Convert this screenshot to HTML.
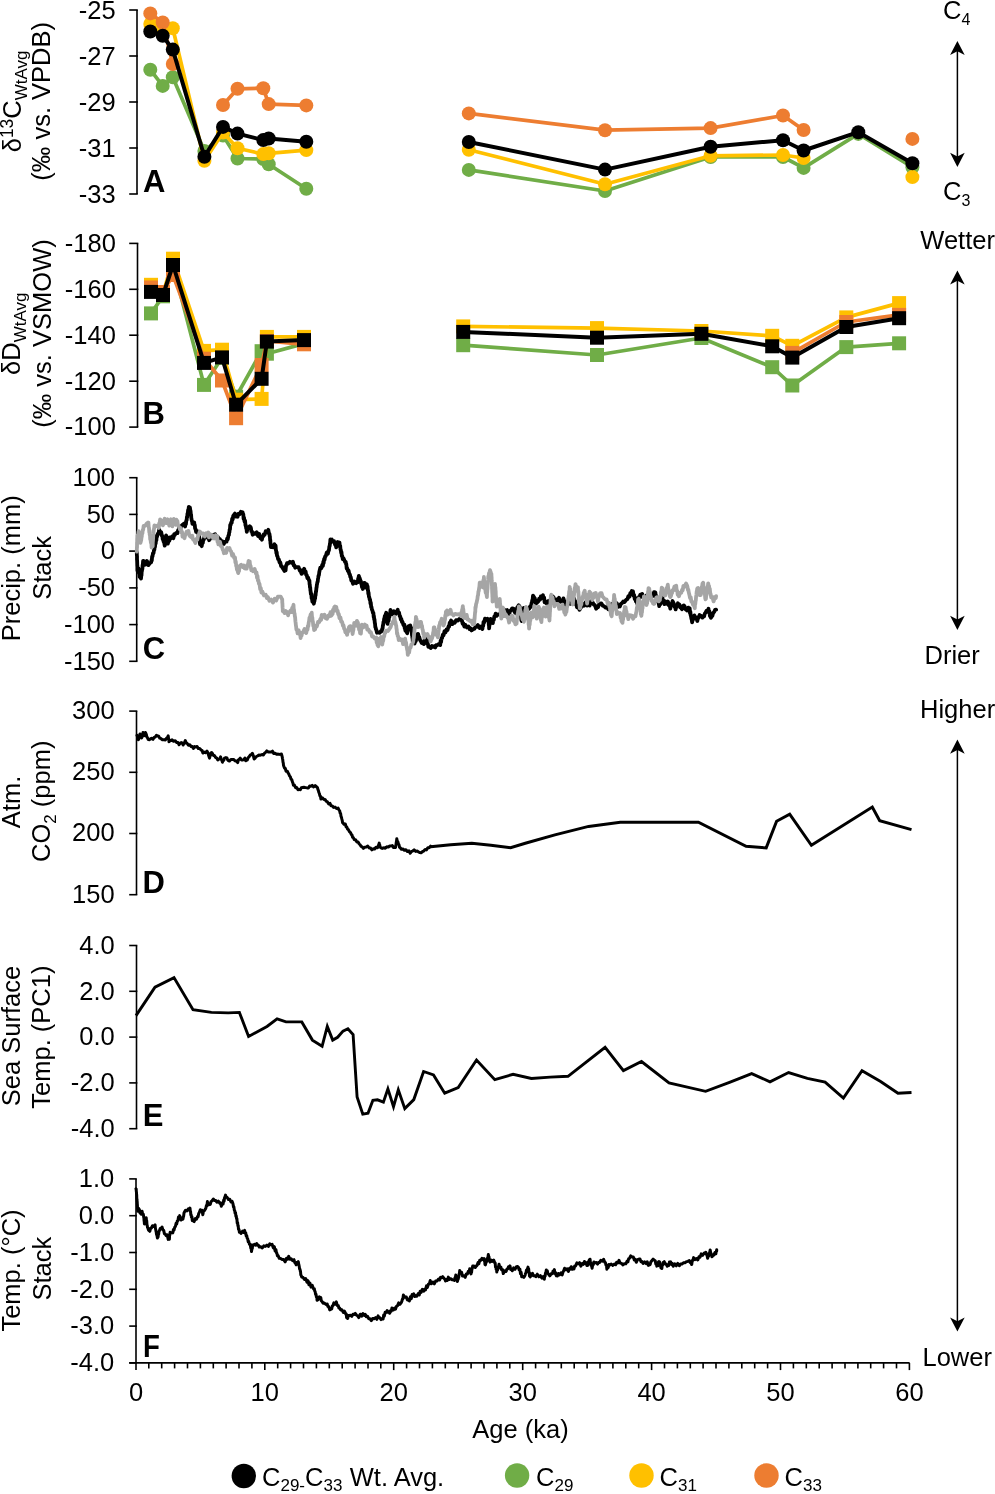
<!DOCTYPE html>
<html><head><meta charset="utf-8"><style>
html,body{margin:0;padding:0;background:#fff;}
svg{display:block;filter:blur(0.3px);}
text{font-family:"Liberation Sans", sans-serif;fill:#000;}
</style></head><body>
<svg width="995" height="1494" viewBox="0 0 995 1494">
<rect width="995" height="1494" fill="#fff"/>
<path d="M137.0,10.0 V194.0" stroke="#000" stroke-width="1.6" fill="none"/>
<path d="M129.2,10.0 H137.8" stroke="#000" stroke-width="1.6" fill="none"/>
<text x="115.6" y="18.8" font-size="25.5" text-anchor="end" font-weight="normal" >-25</text>
<path d="M129.2,56.0 H137.8" stroke="#000" stroke-width="1.6" fill="none"/>
<text x="115.6" y="64.8" font-size="25.5" text-anchor="end" font-weight="normal" >-27</text>
<path d="M129.2,102.0 H137.8" stroke="#000" stroke-width="1.6" fill="none"/>
<text x="115.6" y="110.8" font-size="25.5" text-anchor="end" font-weight="normal" >-29</text>
<path d="M129.2,148.0 H137.8" stroke="#000" stroke-width="1.6" fill="none"/>
<text x="115.6" y="156.8" font-size="25.5" text-anchor="end" font-weight="normal" >-31</text>
<path d="M129.2,194.0 H137.8" stroke="#000" stroke-width="1.6" fill="none"/>
<text x="115.6" y="202.8" font-size="25.5" text-anchor="end" font-weight="normal" >-33</text>
<path d="M137.5,243.4 V427.1" stroke="#000" stroke-width="1.6" fill="none"/>
<path d="M129.2,243.4 H138.3" stroke="#000" stroke-width="1.6" fill="none"/>
<text x="115.9" y="251.7" font-size="25.5" text-anchor="end" font-weight="normal" >-180</text>
<path d="M129.2,289.3 H138.3" stroke="#000" stroke-width="1.6" fill="none"/>
<text x="115.9" y="297.6" font-size="25.5" text-anchor="end" font-weight="normal" >-160</text>
<path d="M129.2,335.2 H138.3" stroke="#000" stroke-width="1.6" fill="none"/>
<text x="115.9" y="343.6" font-size="25.5" text-anchor="end" font-weight="normal" >-140</text>
<path d="M129.2,381.2 H138.3" stroke="#000" stroke-width="1.6" fill="none"/>
<text x="115.9" y="389.5" font-size="25.5" text-anchor="end" font-weight="normal" >-120</text>
<path d="M129.2,427.1 H138.3" stroke="#000" stroke-width="1.6" fill="none"/>
<text x="115.9" y="435.4" font-size="25.5" text-anchor="end" font-weight="normal" >-100</text>
<path d="M136.7,477.7 V661.3" stroke="#000" stroke-width="1.6" fill="none"/>
<path d="M129.2,477.7 H137.5" stroke="#000" stroke-width="1.6" fill="none"/>
<text x="115.0" y="486.0" font-size="25.5" text-anchor="end" font-weight="normal" >100</text>
<path d="M129.2,514.4 H137.5" stroke="#000" stroke-width="1.6" fill="none"/>
<text x="115.0" y="522.7" font-size="25.5" text-anchor="end" font-weight="normal" >50</text>
<path d="M129.2,551.1 H137.5" stroke="#000" stroke-width="1.6" fill="none"/>
<text x="115.0" y="559.4" font-size="25.5" text-anchor="end" font-weight="normal" >0</text>
<path d="M129.2,587.9 H137.5" stroke="#000" stroke-width="1.6" fill="none"/>
<text x="115.0" y="596.2" font-size="25.5" text-anchor="end" font-weight="normal" >-50</text>
<path d="M129.2,624.6 H137.5" stroke="#000" stroke-width="1.6" fill="none"/>
<text x="115.0" y="632.9" font-size="25.5" text-anchor="end" font-weight="normal" >-100</text>
<path d="M129.2,661.3 H137.5" stroke="#000" stroke-width="1.6" fill="none"/>
<text x="115.0" y="669.6" font-size="25.5" text-anchor="end" font-weight="normal" >-150</text>
<path d="M136.5,711.1 V894.7" stroke="#000" stroke-width="1.6" fill="none"/>
<path d="M129.2,711.1 H137.3" stroke="#000" stroke-width="1.6" fill="none"/>
<text x="114.6" y="718.9" font-size="25.5" text-anchor="end" font-weight="normal" >300</text>
<path d="M129.2,772.3 H137.3" stroke="#000" stroke-width="1.6" fill="none"/>
<text x="114.6" y="780.1" font-size="25.5" text-anchor="end" font-weight="normal" >250</text>
<path d="M129.2,833.5 H137.3" stroke="#000" stroke-width="1.6" fill="none"/>
<text x="114.6" y="841.3" font-size="25.5" text-anchor="end" font-weight="normal" >200</text>
<path d="M129.2,894.7 H137.3" stroke="#000" stroke-width="1.6" fill="none"/>
<text x="114.6" y="902.5" font-size="25.5" text-anchor="end" font-weight="normal" >150</text>
<path d="M136.5,945.5 V1128.7" stroke="#000" stroke-width="1.6" fill="none"/>
<path d="M129.2,945.5 H137.3" stroke="#000" stroke-width="1.6" fill="none"/>
<text x="114.8" y="953.8" font-size="25.5" text-anchor="end" font-weight="normal" >4.0</text>
<path d="M129.2,991.3 H137.3" stroke="#000" stroke-width="1.6" fill="none"/>
<text x="114.8" y="999.6" font-size="25.5" text-anchor="end" font-weight="normal" >2.0</text>
<path d="M129.2,1037.1 H137.3" stroke="#000" stroke-width="1.6" fill="none"/>
<text x="114.8" y="1045.4" font-size="25.5" text-anchor="end" font-weight="normal" >0.0</text>
<path d="M129.2,1082.9 H137.3" stroke="#000" stroke-width="1.6" fill="none"/>
<text x="114.8" y="1091.2" font-size="25.5" text-anchor="end" font-weight="normal" >-2.0</text>
<path d="M129.2,1128.7 H137.3" stroke="#000" stroke-width="1.6" fill="none"/>
<text x="114.8" y="1137.0" font-size="25.5" text-anchor="end" font-weight="normal" >-4.0</text>
<path d="M136.0,1178.9 V1362.9" stroke="#000" stroke-width="1.6" fill="none"/>
<path d="M129.2,1178.9 H136.8" stroke="#000" stroke-width="1.6" fill="none"/>
<text x="114.3" y="1187.2" font-size="25.5" text-anchor="end" font-weight="normal" >1.0</text>
<path d="M129.2,1215.7 H136.8" stroke="#000" stroke-width="1.6" fill="none"/>
<text x="114.3" y="1224.0" font-size="25.5" text-anchor="end" font-weight="normal" >0.0</text>
<path d="M129.2,1252.5 H136.8" stroke="#000" stroke-width="1.6" fill="none"/>
<text x="114.3" y="1260.8" font-size="25.5" text-anchor="end" font-weight="normal" >-1.0</text>
<path d="M129.2,1289.3 H136.8" stroke="#000" stroke-width="1.6" fill="none"/>
<text x="114.3" y="1297.6" font-size="25.5" text-anchor="end" font-weight="normal" >-2.0</text>
<path d="M129.2,1326.1 H136.8" stroke="#000" stroke-width="1.6" fill="none"/>
<text x="114.3" y="1334.4" font-size="25.5" text-anchor="end" font-weight="normal" >-3.0</text>
<path d="M129.2,1362.9 H136.8" stroke="#000" stroke-width="1.6" fill="none"/>
<text x="114.3" y="1371.2" font-size="25.5" text-anchor="end" font-weight="normal" >-4.0</text>
<path d="M129.2,1362.9 H909.6" stroke="#000" stroke-width="1.6" fill="none"/>
<path d="M136.0,1362.9 V1370.1000000000001" stroke="#000" stroke-width="1.6" fill="none"/>
<text x="136.0" y="1400.8" font-size="25.5" text-anchor="middle" font-weight="normal" >0</text>
<path d="M148.8,1362.9 V1368.4" stroke="#000" stroke-width="1.6" fill="none"/>
<path d="M161.7,1362.9 V1368.4" stroke="#000" stroke-width="1.6" fill="none"/>
<path d="M174.6,1362.9 V1368.4" stroke="#000" stroke-width="1.6" fill="none"/>
<path d="M187.5,1362.9 V1368.4" stroke="#000" stroke-width="1.6" fill="none"/>
<path d="M200.4,1362.9 V1368.4" stroke="#000" stroke-width="1.6" fill="none"/>
<path d="M213.3,1362.9 V1368.4" stroke="#000" stroke-width="1.6" fill="none"/>
<path d="M226.1,1362.9 V1368.4" stroke="#000" stroke-width="1.6" fill="none"/>
<path d="M239.0,1362.9 V1368.4" stroke="#000" stroke-width="1.6" fill="none"/>
<path d="M251.9,1362.9 V1368.4" stroke="#000" stroke-width="1.6" fill="none"/>
<path d="M264.8,1362.9 V1370.1000000000001" stroke="#000" stroke-width="1.6" fill="none"/>
<text x="264.8" y="1400.8" font-size="25.5" text-anchor="middle" font-weight="normal" >10</text>
<path d="M277.7,1362.9 V1368.4" stroke="#000" stroke-width="1.6" fill="none"/>
<path d="M290.6,1362.9 V1368.4" stroke="#000" stroke-width="1.6" fill="none"/>
<path d="M303.5,1362.9 V1368.4" stroke="#000" stroke-width="1.6" fill="none"/>
<path d="M316.4,1362.9 V1368.4" stroke="#000" stroke-width="1.6" fill="none"/>
<path d="M329.3,1362.9 V1368.4" stroke="#000" stroke-width="1.6" fill="none"/>
<path d="M342.2,1362.9 V1368.4" stroke="#000" stroke-width="1.6" fill="none"/>
<path d="M355.1,1362.9 V1368.4" stroke="#000" stroke-width="1.6" fill="none"/>
<path d="M368.0,1362.9 V1368.4" stroke="#000" stroke-width="1.6" fill="none"/>
<path d="M380.8,1362.9 V1368.4" stroke="#000" stroke-width="1.6" fill="none"/>
<path d="M393.7,1362.9 V1370.1000000000001" stroke="#000" stroke-width="1.6" fill="none"/>
<text x="393.7" y="1400.8" font-size="25.5" text-anchor="middle" font-weight="normal" >20</text>
<path d="M406.6,1362.9 V1368.4" stroke="#000" stroke-width="1.6" fill="none"/>
<path d="M419.5,1362.9 V1368.4" stroke="#000" stroke-width="1.6" fill="none"/>
<path d="M432.4,1362.9 V1368.4" stroke="#000" stroke-width="1.6" fill="none"/>
<path d="M445.3,1362.9 V1368.4" stroke="#000" stroke-width="1.6" fill="none"/>
<path d="M458.2,1362.9 V1368.4" stroke="#000" stroke-width="1.6" fill="none"/>
<path d="M471.1,1362.9 V1368.4" stroke="#000" stroke-width="1.6" fill="none"/>
<path d="M484.0,1362.9 V1368.4" stroke="#000" stroke-width="1.6" fill="none"/>
<path d="M496.9,1362.9 V1368.4" stroke="#000" stroke-width="1.6" fill="none"/>
<path d="M509.8,1362.9 V1368.4" stroke="#000" stroke-width="1.6" fill="none"/>
<path d="M522.7,1362.9 V1370.1000000000001" stroke="#000" stroke-width="1.6" fill="none"/>
<text x="522.7" y="1400.8" font-size="25.5" text-anchor="middle" font-weight="normal" >30</text>
<path d="M535.6,1362.9 V1368.4" stroke="#000" stroke-width="1.6" fill="none"/>
<path d="M548.4,1362.9 V1368.4" stroke="#000" stroke-width="1.6" fill="none"/>
<path d="M561.3,1362.9 V1368.4" stroke="#000" stroke-width="1.6" fill="none"/>
<path d="M574.2,1362.9 V1368.4" stroke="#000" stroke-width="1.6" fill="none"/>
<path d="M587.1,1362.9 V1368.4" stroke="#000" stroke-width="1.6" fill="none"/>
<path d="M600.0,1362.9 V1368.4" stroke="#000" stroke-width="1.6" fill="none"/>
<path d="M612.9,1362.9 V1368.4" stroke="#000" stroke-width="1.6" fill="none"/>
<path d="M625.8,1362.9 V1368.4" stroke="#000" stroke-width="1.6" fill="none"/>
<path d="M638.7,1362.9 V1368.4" stroke="#000" stroke-width="1.6" fill="none"/>
<path d="M651.6,1362.9 V1370.1000000000001" stroke="#000" stroke-width="1.6" fill="none"/>
<text x="651.6" y="1400.8" font-size="25.5" text-anchor="middle" font-weight="normal" >40</text>
<path d="M664.5,1362.9 V1368.4" stroke="#000" stroke-width="1.6" fill="none"/>
<path d="M677.4,1362.9 V1368.4" stroke="#000" stroke-width="1.6" fill="none"/>
<path d="M690.3,1362.9 V1368.4" stroke="#000" stroke-width="1.6" fill="none"/>
<path d="M703.1,1362.9 V1368.4" stroke="#000" stroke-width="1.6" fill="none"/>
<path d="M716.0,1362.9 V1368.4" stroke="#000" stroke-width="1.6" fill="none"/>
<path d="M728.9,1362.9 V1368.4" stroke="#000" stroke-width="1.6" fill="none"/>
<path d="M741.8,1362.9 V1368.4" stroke="#000" stroke-width="1.6" fill="none"/>
<path d="M754.7,1362.9 V1368.4" stroke="#000" stroke-width="1.6" fill="none"/>
<path d="M767.6,1362.9 V1368.4" stroke="#000" stroke-width="1.6" fill="none"/>
<path d="M780.5,1362.9 V1370.1000000000001" stroke="#000" stroke-width="1.6" fill="none"/>
<text x="780.5" y="1400.8" font-size="25.5" text-anchor="middle" font-weight="normal" >50</text>
<path d="M793.4,1362.9 V1368.4" stroke="#000" stroke-width="1.6" fill="none"/>
<path d="M806.3,1362.9 V1368.4" stroke="#000" stroke-width="1.6" fill="none"/>
<path d="M819.2,1362.9 V1368.4" stroke="#000" stroke-width="1.6" fill="none"/>
<path d="M832.1,1362.9 V1368.4" stroke="#000" stroke-width="1.6" fill="none"/>
<path d="M845.0,1362.9 V1368.4" stroke="#000" stroke-width="1.6" fill="none"/>
<path d="M857.9,1362.9 V1368.4" stroke="#000" stroke-width="1.6" fill="none"/>
<path d="M870.7,1362.9 V1368.4" stroke="#000" stroke-width="1.6" fill="none"/>
<path d="M883.6,1362.9 V1368.4" stroke="#000" stroke-width="1.6" fill="none"/>
<path d="M896.5,1362.9 V1368.4" stroke="#000" stroke-width="1.6" fill="none"/>
<path d="M909.4,1362.9 V1370.1000000000001" stroke="#000" stroke-width="1.6" fill="none"/>
<text x="909.4" y="1400.8" font-size="25.5" text-anchor="middle" font-weight="normal" >60</text>
<text x="520.5" y="1437.6" font-size="25.5" text-anchor="middle" font-weight="normal" >Age (ka)</text>
<text x="143.0" y="192.0" font-size="31" text-anchor="start" font-weight="bold" >A</text>
<text x="142.6" y="423.8" font-size="31" text-anchor="start" font-weight="bold" >B</text>
<text x="142.8" y="658.8" font-size="31" text-anchor="start" font-weight="bold" >C</text>
<text x="142.6" y="892.5" font-size="31" text-anchor="start" font-weight="bold" >D</text>
<text x="142.8" y="1126.2" font-size="31" text-anchor="start" font-weight="bold" >E</text>
<text transform="translate(142.9,1356.6) scale(0.89,1)" font-size="31" font-weight="bold">F</text>
<polyline points="150.3,69.7 162.7,85.9 172.8,77.3 204.4,150.9 223.0,135.5 237.5,158.5 263.3,159.0 268.7,164.2 306.3,188.7" fill="none" stroke="#70AD47" stroke-width="3.7" stroke-linejoin="round" stroke-linecap="round" stroke-miterlimit="4"/>
<circle cx="150.3" cy="69.7" r="7.0" fill="#70AD47"/>
<circle cx="162.7" cy="85.9" r="7.0" fill="#70AD47"/>
<circle cx="172.8" cy="77.3" r="7.0" fill="#70AD47"/>
<circle cx="204.4" cy="150.9" r="7.0" fill="#70AD47"/>
<circle cx="223.0" cy="135.5" r="7.0" fill="#70AD47"/>
<circle cx="237.5" cy="158.5" r="7.0" fill="#70AD47"/>
<circle cx="263.3" cy="159.0" r="7.0" fill="#70AD47"/>
<circle cx="268.7" cy="164.2" r="7.0" fill="#70AD47"/>
<circle cx="306.3" cy="188.7" r="7.0" fill="#70AD47"/>
<polyline points="468.8,169.9 605.0,191.0 710.6,157.0 783.0,157.0 803.6,167.9 858.3,133.9 912.4,167.3" fill="none" stroke="#70AD47" stroke-width="3.7" stroke-linejoin="round" stroke-linecap="round" stroke-miterlimit="4"/>
<circle cx="468.8" cy="169.9" r="7.0" fill="#70AD47"/>
<circle cx="605.0" cy="191.0" r="7.0" fill="#70AD47"/>
<circle cx="710.6" cy="157.0" r="7.0" fill="#70AD47"/>
<circle cx="783.0" cy="157.0" r="7.0" fill="#70AD47"/>
<circle cx="803.6" cy="167.9" r="7.0" fill="#70AD47"/>
<circle cx="858.3" cy="133.9" r="7.0" fill="#70AD47"/>
<circle cx="912.4" cy="167.3" r="7.0" fill="#70AD47"/>
<polyline points="150.3,23.9 162.7,28.0 172.8,28.3 204.4,160.8 223.0,132.5 237.5,148.3 263.3,154.1 268.7,153.3 306.3,150.1" fill="none" stroke="#FFC000" stroke-width="3.7" stroke-linejoin="round" stroke-linecap="round" stroke-miterlimit="4"/>
<circle cx="150.3" cy="23.9" r="7.0" fill="#FFC000"/>
<circle cx="162.7" cy="28.0" r="7.0" fill="#FFC000"/>
<circle cx="172.8" cy="28.3" r="7.0" fill="#FFC000"/>
<circle cx="204.4" cy="160.8" r="7.0" fill="#FFC000"/>
<circle cx="223.0" cy="132.5" r="7.0" fill="#FFC000"/>
<circle cx="237.5" cy="148.3" r="7.0" fill="#FFC000"/>
<circle cx="263.3" cy="154.1" r="7.0" fill="#FFC000"/>
<circle cx="268.7" cy="153.3" r="7.0" fill="#FFC000"/>
<circle cx="306.3" cy="150.1" r="7.0" fill="#FFC000"/>
<polyline points="468.8,149.8 605.0,184.2 710.6,155.8 783.0,155.0 803.6,158.0" fill="none" stroke="#FFC000" stroke-width="3.7" stroke-linejoin="round" stroke-linecap="round" stroke-miterlimit="4"/>
<circle cx="468.8" cy="149.8" r="7.0" fill="#FFC000"/>
<circle cx="605.0" cy="184.2" r="7.0" fill="#FFC000"/>
<circle cx="710.6" cy="155.8" r="7.0" fill="#FFC000"/>
<circle cx="783.0" cy="155.0" r="7.0" fill="#FFC000"/>
<circle cx="803.6" cy="158.0" r="7.0" fill="#FFC000"/>
<circle cx="912.4" cy="177.1" r="7.0" fill="#FFC000"/>
<polyline points="150.3,13.4 162.7,22.5 172.8,64.0" fill="none" stroke="#ED7D31" stroke-width="3.7" stroke-linejoin="round" stroke-linecap="round" stroke-miterlimit="4"/>
<polyline points="223.0,105.0 237.5,88.8 263.3,88.2 268.7,104.1 306.3,105.4" fill="none" stroke="#ED7D31" stroke-width="3.7" stroke-linejoin="round" stroke-linecap="round" stroke-miterlimit="4"/>
<circle cx="150.3" cy="13.4" r="7.0" fill="#ED7D31"/>
<circle cx="162.7" cy="22.5" r="7.0" fill="#ED7D31"/>
<circle cx="172.8" cy="64.0" r="7.0" fill="#ED7D31"/>
<circle cx="223.0" cy="105.0" r="7.0" fill="#ED7D31"/>
<circle cx="237.5" cy="88.8" r="7.0" fill="#ED7D31"/>
<circle cx="263.3" cy="88.2" r="7.0" fill="#ED7D31"/>
<circle cx="268.7" cy="104.1" r="7.0" fill="#ED7D31"/>
<circle cx="306.3" cy="105.4" r="7.0" fill="#ED7D31"/>
<polyline points="468.8,113.4 605.0,130.2 710.6,128.1 783.0,115.5 803.6,130.0" fill="none" stroke="#ED7D31" stroke-width="3.7" stroke-linejoin="round" stroke-linecap="round" stroke-miterlimit="4"/>
<circle cx="468.8" cy="113.4" r="7.0" fill="#ED7D31"/>
<circle cx="605.0" cy="130.2" r="7.0" fill="#ED7D31"/>
<circle cx="710.6" cy="128.1" r="7.0" fill="#ED7D31"/>
<circle cx="783.0" cy="115.5" r="7.0" fill="#ED7D31"/>
<circle cx="803.6" cy="130.0" r="7.0" fill="#ED7D31"/>
<circle cx="912.4" cy="138.9" r="7.0" fill="#ED7D31"/>
<polyline points="150.3,31.5 162.7,35.7 172.8,49.6 204.4,156.7 223.0,126.9 237.5,133.6 263.3,140.1 268.7,138.5 306.3,141.7" fill="none" stroke="#000000" stroke-width="4.0" stroke-linejoin="round" stroke-linecap="round" stroke-miterlimit="4"/>
<circle cx="150.3" cy="31.5" r="7.0" fill="#000000"/>
<circle cx="162.7" cy="35.7" r="7.0" fill="#000000"/>
<circle cx="172.8" cy="49.6" r="7.0" fill="#000000"/>
<circle cx="204.4" cy="156.7" r="7.0" fill="#000000"/>
<circle cx="223.0" cy="126.9" r="7.0" fill="#000000"/>
<circle cx="237.5" cy="133.6" r="7.0" fill="#000000"/>
<circle cx="263.3" cy="140.1" r="7.0" fill="#000000"/>
<circle cx="268.7" cy="138.5" r="7.0" fill="#000000"/>
<circle cx="306.3" cy="141.7" r="7.0" fill="#000000"/>
<polyline points="468.8,142.0 605.0,169.6 710.6,146.8 783.0,140.2 803.6,150.5 858.3,132.2 912.4,163.3" fill="none" stroke="#000000" stroke-width="4.0" stroke-linejoin="round" stroke-linecap="round" stroke-miterlimit="4"/>
<circle cx="468.8" cy="142.0" r="7.0" fill="#000000"/>
<circle cx="605.0" cy="169.6" r="7.0" fill="#000000"/>
<circle cx="710.6" cy="146.8" r="7.0" fill="#000000"/>
<circle cx="783.0" cy="140.2" r="7.0" fill="#000000"/>
<circle cx="803.6" cy="150.5" r="7.0" fill="#000000"/>
<circle cx="858.3" cy="132.2" r="7.0" fill="#000000"/>
<circle cx="912.4" cy="163.3" r="7.0" fill="#000000"/>
<polyline points="151.0,313.4 163.0,296.3 173.0,265.5 204.0,384.9 222.0,357.8 236.1,396.7 261.6,351.2 266.9,353.7 304.0,343.6" fill="none" stroke="#70AD47" stroke-width="3.7" stroke-linejoin="round" stroke-linecap="round" stroke-miterlimit="4"/>
<rect x="144.0" y="306.4" width="14.0" height="14.0" fill="#70AD47"/>
<rect x="156.0" y="289.3" width="14.0" height="14.0" fill="#70AD47"/>
<rect x="166.0" y="258.5" width="14.0" height="14.0" fill="#70AD47"/>
<rect x="197.0" y="377.9" width="14.0" height="14.0" fill="#70AD47"/>
<rect x="215.0" y="350.8" width="14.0" height="14.0" fill="#70AD47"/>
<rect x="229.1" y="389.7" width="14.0" height="14.0" fill="#70AD47"/>
<rect x="254.6" y="344.2" width="14.0" height="14.0" fill="#70AD47"/>
<rect x="259.9" y="346.7" width="14.0" height="14.0" fill="#70AD47"/>
<rect x="297.0" y="336.6" width="14.0" height="14.0" fill="#70AD47"/>
<polyline points="463.2,345.2 597.0,355.0 701.4,338.0 772.2,367.2 792.3,385.5 846.3,347.1 899.1,343.3" fill="none" stroke="#70AD47" stroke-width="3.7" stroke-linejoin="round" stroke-linecap="round" stroke-miterlimit="4"/>
<rect x="456.2" y="338.2" width="14.0" height="14.0" fill="#70AD47"/>
<rect x="590.0" y="348.0" width="14.0" height="14.0" fill="#70AD47"/>
<rect x="694.4" y="331.0" width="14.0" height="14.0" fill="#70AD47"/>
<rect x="765.2" y="360.2" width="14.0" height="14.0" fill="#70AD47"/>
<rect x="785.3" y="378.5" width="14.0" height="14.0" fill="#70AD47"/>
<rect x="839.3" y="340.1" width="14.0" height="14.0" fill="#70AD47"/>
<rect x="892.1" y="336.3" width="14.0" height="14.0" fill="#70AD47"/>
<polyline points="151.0,284.8 163.0,294.0 173.0,258.7 204.0,350.9 222.0,349.7 236.1,399.7 261.6,398.9 266.9,336.9 304.0,336.9" fill="none" stroke="#FFC000" stroke-width="3.7" stroke-linejoin="round" stroke-linecap="round" stroke-miterlimit="4"/>
<rect x="144.0" y="277.8" width="14.0" height="14.0" fill="#FFC000"/>
<rect x="156.0" y="287.0" width="14.0" height="14.0" fill="#FFC000"/>
<rect x="166.0" y="251.7" width="14.0" height="14.0" fill="#FFC000"/>
<rect x="197.0" y="343.9" width="14.0" height="14.0" fill="#FFC000"/>
<rect x="215.0" y="342.7" width="14.0" height="14.0" fill="#FFC000"/>
<rect x="229.1" y="392.7" width="14.0" height="14.0" fill="#FFC000"/>
<rect x="254.6" y="391.9" width="14.0" height="14.0" fill="#FFC000"/>
<rect x="259.9" y="329.9" width="14.0" height="14.0" fill="#FFC000"/>
<rect x="297.0" y="329.9" width="14.0" height="14.0" fill="#FFC000"/>
<polyline points="463.2,326.4 597.0,328.1 701.4,331.0 772.2,335.8 792.3,345.8 846.3,317.4 899.1,303.1" fill="none" stroke="#FFC000" stroke-width="3.7" stroke-linejoin="round" stroke-linecap="round" stroke-miterlimit="4"/>
<rect x="456.2" y="319.4" width="14.0" height="14.0" fill="#FFC000"/>
<rect x="590.0" y="321.1" width="14.0" height="14.0" fill="#FFC000"/>
<rect x="694.4" y="324.0" width="14.0" height="14.0" fill="#FFC000"/>
<rect x="765.2" y="328.8" width="14.0" height="14.0" fill="#FFC000"/>
<rect x="785.3" y="338.8" width="14.0" height="14.0" fill="#FFC000"/>
<rect x="839.3" y="310.4" width="14.0" height="14.0" fill="#FFC000"/>
<rect x="892.1" y="296.1" width="14.0" height="14.0" fill="#FFC000"/>
<polyline points="151.0,287.5 163.0,292.0 173.0,275.0 204.0,358.7 222.0,380.5 236.1,418.2 261.6,365.0 266.9,341.0 304.0,344.3" fill="none" stroke="#ED7D31" stroke-width="3.7" stroke-linejoin="round" stroke-linecap="round" stroke-miterlimit="4"/>
<rect x="144.0" y="280.5" width="14.0" height="14.0" fill="#ED7D31"/>
<rect x="156.0" y="285.0" width="14.0" height="14.0" fill="#ED7D31"/>
<rect x="166.0" y="268.0" width="14.0" height="14.0" fill="#ED7D31"/>
<rect x="197.0" y="351.7" width="14.0" height="14.0" fill="#ED7D31"/>
<rect x="215.0" y="373.5" width="14.0" height="14.0" fill="#ED7D31"/>
<rect x="229.1" y="411.2" width="14.0" height="14.0" fill="#ED7D31"/>
<rect x="254.6" y="358.0" width="14.0" height="14.0" fill="#ED7D31"/>
<rect x="259.9" y="334.0" width="14.0" height="14.0" fill="#ED7D31"/>
<rect x="297.0" y="337.3" width="14.0" height="14.0" fill="#ED7D31"/>
<polyline points="792.3,352.9 846.3,322.0 899.1,314.9" fill="none" stroke="#ED7D31" stroke-width="3.7" stroke-linejoin="round" stroke-linecap="round" stroke-miterlimit="4"/>
<rect x="785.3" y="345.9" width="14.0" height="14.0" fill="#ED7D31"/>
<rect x="839.3" y="315.0" width="14.0" height="14.0" fill="#ED7D31"/>
<rect x="892.1" y="307.9" width="14.0" height="14.0" fill="#ED7D31"/>
<polyline points="151.0,291.9 163.0,295.0 173.0,265.0 204.0,362.9 222.0,357.4 236.1,404.7 261.6,378.8 266.9,341.6 304.0,340.1" fill="none" stroke="#000000" stroke-width="4.0" stroke-linejoin="round" stroke-linecap="round" stroke-miterlimit="4"/>
<rect x="144.0" y="284.9" width="14.0" height="14.0" fill="#000000"/>
<rect x="156.0" y="288.0" width="14.0" height="14.0" fill="#000000"/>
<rect x="166.0" y="258.0" width="14.0" height="14.0" fill="#000000"/>
<rect x="197.0" y="355.9" width="14.0" height="14.0" fill="#000000"/>
<rect x="215.0" y="350.4" width="14.0" height="14.0" fill="#000000"/>
<rect x="229.1" y="397.7" width="14.0" height="14.0" fill="#000000"/>
<rect x="254.6" y="371.8" width="14.0" height="14.0" fill="#000000"/>
<rect x="259.9" y="334.6" width="14.0" height="14.0" fill="#000000"/>
<rect x="297.0" y="333.1" width="14.0" height="14.0" fill="#000000"/>
<polyline points="463.2,331.9 597.0,337.7 701.4,333.8 772.2,346.3 792.3,357.6 846.3,327.0 899.1,318.2" fill="none" stroke="#000000" stroke-width="4.0" stroke-linejoin="round" stroke-linecap="round" stroke-miterlimit="4"/>
<rect x="456.2" y="324.9" width="14.0" height="14.0" fill="#000000"/>
<rect x="590.0" y="330.7" width="14.0" height="14.0" fill="#000000"/>
<rect x="694.4" y="326.8" width="14.0" height="14.0" fill="#000000"/>
<rect x="765.2" y="339.3" width="14.0" height="14.0" fill="#000000"/>
<rect x="785.3" y="350.6" width="14.0" height="14.0" fill="#000000"/>
<rect x="839.3" y="320.0" width="14.0" height="14.0" fill="#000000"/>
<rect x="892.1" y="311.2" width="14.0" height="14.0" fill="#000000"/>
<polyline points="136.8,552.2 136.8,552.6 136.9,555.8 137.0,555.9 137.0,559.7 137.1,560.2 137.2,562.0 137.2,562.3 137.3,565.8 137.4,566.7 137.4,570.5 137.5,569.7 137.8,572.1 138.5,568.3 138.9,570.4 139.0,570.8 139.2,573.8 139.4,572.9 139.6,577.0 140.1,576.4 141.0,578.6 141.2,575.7 141.5,575.4 141.7,571.4 141.9,571.3 142.2,569.0 142.4,568.8 142.6,564.9 142.8,565.2 143.1,560.8 143.4,562.3 144.0,561.1 144.6,564.9 145.3,563.6 146.0,564.2 147.0,561.0 148.4,565.1 149.8,563.1 151.1,562.4 151.5,560.2 151.8,560.5 152.1,556.5 152.5,556.6 152.9,553.4 153.5,553.2 154.0,550.0 154.4,549.6 154.7,546.4 155.0,546.7 155.4,542.5 155.7,543.5 156.0,539.1 156.4,540.5 156.7,535.7 157.0,536.8 157.7,533.9 158.4,534.1 159.2,529.5 160.2,533.3 161.2,532.1 161.9,535.8 162.3,535.9 162.7,539.3 163.1,538.6 163.6,541.6 164.2,542.7 164.7,545.6 165.0,540.8 165.3,541.0 165.5,537.8 165.8,538.2 166.1,535.5 166.4,536.8 166.7,536.7 167.1,541.2 167.4,541.3 167.8,543.6 168.6,540.9 169.3,540.7 170.1,537.4 171.0,538.4 172.4,536.2 173.4,538.2 174.2,534.1 174.9,534.8 176.1,533.0 177.5,533.2 178.0,530.5 178.6,529.3 179.3,526.8 180.7,527.6 182.0,525.2 183.2,524.3 184.2,523.5 185.1,526.5 185.5,522.7 185.9,524.2 186.3,520.4 186.7,520.1 186.9,516.8 187.2,517.1 187.5,513.3 187.8,513.6 188.1,509.9 188.5,510.9 188.8,506.8 189.3,507.9 189.9,507.5 190.4,510.7 190.6,511.5 190.9,515.4 191.1,514.5 191.3,518.0 191.5,518.7 191.8,521.1 192.1,521.1 192.4,523.8 192.9,522.9 193.7,523.5 194.2,522.4 194.5,525.2 194.8,525.0 195.1,528.6 195.4,528.6 196.1,531.9 197.0,530.9 198.2,533.4 198.8,534.8 199.0,537.7 199.2,536.6 199.5,540.3 199.7,540.8 200.0,544.3 200.6,544.2 201.7,546.2 202.2,543.4 202.8,542.9 203.3,539.7 203.8,539.6 204.4,536.8 205.4,537.5 206.8,535.2 207.6,537.6 208.4,536.9 209.1,540.2 210.1,538.1 211.2,538.4 212.3,535.4 213.5,535.0 215.1,534.2 216.5,537.0 217.7,536.8 218.9,538.7 219.9,539.0 220.9,542.3 222.3,541.2 223.7,544.1 225.2,541.6 226.6,541.6 227.2,538.3 227.8,539.3 228.4,535.5 228.9,535.0 229.1,532.7 229.4,532.2 229.7,529.3 230.0,529.3 230.2,524.8 230.7,524.9 231.2,522.5 231.7,522.7 232.2,518.6 232.7,519.5 233.2,515.9 233.8,515.1 234.9,513.6 236.0,516.5 236.8,516.2 237.6,516.7 238.3,513.9 239.5,514.2 240.9,511.8 242.1,512.9 242.6,512.2 242.9,514.2 243.3,514.2 243.6,519.0 244.0,517.5 244.5,521.5 245.1,520.8 245.5,525.6 245.8,525.3 246.2,528.6 246.5,527.6 246.8,531.8 247.6,528.3 248.4,528.2 249.8,526.2 250.7,527.2 251.0,528.4 251.3,531.2 251.9,531.3 252.7,534.7 253.9,533.0 255.3,533.9 256.7,532.2 258.0,536.0 259.2,534.0 260.4,538.3 261.2,537.3 261.9,539.7 262.5,536.8 263.0,536.7 263.7,534.4 264.7,534.7 265.7,531.3 267.1,532.0 268.3,529.8 269.0,533.9 269.5,533.9 269.7,536.6 269.9,536.4 270.1,540.3 270.3,539.9 270.5,543.5 270.7,544.3 270.9,547.2 271.7,545.8 273.3,547.2 274.5,544.3 275.4,547.0 275.6,545.7 275.9,550.2 276.1,550.4 276.4,553.2 276.7,552.3 277.0,555.5 277.6,556.6 278.1,559.1 278.8,559.3 279.6,562.5 280.3,562.5 281.1,566.1 281.9,566.3 282.6,567.9 283.4,569.1 284.5,570.9 285.3,570.3 285.6,570.4 286.0,565.7 286.4,565.6 287.1,563.1 288.3,563.4 289.9,561.8 291.6,562.8 292.9,561.7 293.7,565.4 294.4,565.3 295.2,567.7 296.2,567.1 297.4,567.2 298.6,567.2 299.8,570.6 300.5,570.2 301.1,572.6 301.6,573.8 302.1,573.5 302.5,570.2 303.0,570.9 304.2,568.8 305.0,572.2 305.6,571.4 306.1,574.8 306.7,575.0 307.4,578.0 308.1,577.5 309.1,580.8 309.4,580.6 309.6,584.2 309.8,584.7 310.0,587.7 310.2,587.3 310.4,590.3 310.6,591.2 310.9,594.3 311.3,593.7 311.6,598.5 311.9,597.9 312.4,601.7 313.1,600.4 313.8,603.7 314.2,601.6 314.5,601.0 314.8,597.7 315.1,598.5 315.4,594.2 315.6,595.4 315.9,591.2 316.1,591.9 316.4,588.0 316.6,587.5 316.9,584.6 317.1,584.0 317.4,582.0 317.7,581.9 318.0,578.9 318.3,577.4 318.6,575.4 318.9,575.4 319.3,572.0 319.6,570.6 320.3,567.7 321.4,568.1 322.2,564.9 322.9,565.9 323.3,561.7 323.7,563.1 324.1,558.9 324.6,559.6 325.1,556.5 325.7,556.3 326.7,552.8 327.9,553.7 328.5,550.7 328.9,550.6 329.4,546.1 329.7,546.1 329.9,543.7 330.1,543.6 330.4,539.5 330.9,539.7 331.8,539.5 332.8,541.6 334.1,541.2 335.1,544.7 335.6,544.4 336.2,547.3 336.7,545.3 337.1,545.0 337.6,542.0 338.6,542.4 339.5,542.6 339.8,546.7 340.2,546.0 340.5,549.7 340.8,549.8 341.2,552.9 341.5,552.1 341.8,556.2 342.2,555.9 342.8,559.1 343.7,558.6 345.1,562.1 345.7,561.9 346.0,563.9 346.3,564.2 346.7,568.7 347.1,567.9 347.9,571.0 348.6,570.6 349.2,573.7 349.9,574.5 350.3,576.9 350.8,577.2 351.3,580.4 352.1,580.9 353.1,583.8 354.6,581.6 356.2,583.2 357.5,581.9 357.8,582.1 358.2,578.3 358.5,579.1 358.8,575.9 359.3,577.2 359.8,578.4 360.4,580.8 360.8,581.0 361.2,583.6 361.6,584.4 362.0,587.2 362.4,586.9 362.8,589.0 363.2,585.4 363.6,586.3 364.0,582.8 364.4,583.8 365.0,583.1 365.6,587.5 366.8,584.3 367.4,586.7 367.6,586.3 367.9,590.7 368.1,590.2 368.3,593.8 368.6,592.6 368.9,596.7 369.3,597.2 369.7,599.6 370.1,599.7 370.5,603.7 370.8,602.6 371.2,607.3 371.5,607.1 371.9,609.5 372.4,610.4 372.9,612.8 373.4,612.9 373.7,617.2 373.9,615.9 374.2,619.5 374.5,619.3 374.8,623.0 375.0,623.4 375.3,627.0 375.6,627.3 375.9,629.3 376.2,629.4 377.0,632.7 378.2,632.2 379.7,632.8 381.1,631.0 381.8,631.1 382.2,628.9 382.6,628.5 382.9,625.3 383.2,624.8 383.5,621.8 383.8,622.7 384.1,618.8 384.4,618.7 384.8,615.9 385.5,615.1 386.2,612.8 386.4,615.8 386.7,615.8 387.0,620.5 387.3,620.4 387.6,623.9 388.1,620.5 388.6,620.8 389.1,616.6 389.5,616.7 389.8,613.4 390.1,614.0 390.5,609.9 391.0,611.7 391.8,611.5 392.8,614.4 394.0,611.2 395.2,614.3 396.0,611.8 396.9,611.3 397.7,609.8 398.4,613.2 399.0,612.4 399.7,616.1 400.2,616.4 400.8,619.4 401.3,618.9 401.9,621.9 402.4,621.7 403.5,625.1 404.4,624.8 404.7,628.3 405.0,628.1 405.4,630.6 405.8,630.4 407.2,633.2 407.6,629.6 408.0,630.0 408.3,626.4 408.7,626.1 410.2,625.4 410.7,627.5 411.1,627.8 411.5,631.9 411.8,631.4 412.0,635.3 412.2,635.1 412.4,637.8 412.6,638.4 412.8,642.2 413.0,642.4 414.6,643.4 415.5,641.1 415.9,641.1 416.4,637.6 416.8,637.1 417.2,634.2 417.6,634.6 418.2,634.0 418.7,637.5 419.3,637.1 420.1,640.2 420.8,641.1 421.8,643.0 423.2,643.6 424.0,644.1 424.5,639.9 425.1,639.9 426.2,638.0 426.8,639.9 427.2,639.6 427.5,643.9 427.8,642.9 428.3,646.8 429.5,646.7 430.7,648.1 431.9,645.9 433.1,646.9 434.3,646.3 435.3,647.4 436.2,645.1 437.1,645.4 438.8,644.0 440.2,645.1 440.6,640.6 441.1,642.0 441.5,638.1 442.1,638.1 442.8,634.7 443.6,635.2 444.5,631.1 445.5,632.5 446.5,629.5 447.5,630.1 448.5,626.4 449.1,626.7 449.7,622.8 450.3,622.5 451.1,620.5 452.3,624.1 453.5,622.3 454.7,622.8 456.1,620.2 457.6,620.6 459.2,619.0 460.9,620.0 461.9,620.3 462.6,623.7 463.4,623.4 464.3,626.6 465.4,624.9 467.0,627.5 468.5,626.5 469.7,629.1 470.5,628.3 471.5,630.4 473.1,629.2 474.2,629.0 475.3,627.1 476.3,626.9 477.9,625.1 479.4,628.0 481.0,626.4 482.4,629.1 482.8,626.0 483.2,626.0 483.5,621.9 484.0,622.8 485.0,618.7 486.0,619.8 487.4,618.7 488.4,621.8 488.6,620.5 488.8,625.2 489.0,624.7 489.1,628.4 489.4,625.2 489.7,624.5 489.9,622.6 490.2,621.1 490.5,619.0 491.0,619.3 491.9,619.7 492.8,623.1 493.3,619.9 493.8,619.9 494.3,616.4 494.9,616.5 495.7,613.6 496.7,615.9 498.0,614.3 499.4,614.4 500.8,613.1 502.2,616.3 503.2,613.1 504.2,613.0 505.2,610.1 506.2,610.7 507.1,610.1 507.8,612.0 508.6,613.2 509.3,614.0 510.1,610.9 510.9,610.4 512.2,608.3 513.4,608.5 514.0,609.5 514.6,612.0 515.2,612.7 515.7,613.2 516.2,611.4 516.7,610.2 517.2,607.5 517.7,606.8 518.7,605.3 519.4,606.5 519.7,606.7 519.9,610.3 520.1,610.7 520.3,613.2 520.6,613.5 520.8,615.9 521.0,615.9 521.3,619.6 521.5,620.7 521.8,621.1 522.0,618.3 522.3,618.0 522.6,614.6 522.9,613.8 523.2,611.8 523.4,611.4 523.7,608.0 524.4,610.0 525.5,609.2 526.6,612.1 528.0,608.9 529.2,608.8 530.1,606.4 531.0,606.8 531.6,602.8 531.9,602.8 532.2,600.4 532.6,600.0 533.0,595.6 534.4,597.7 534.8,598.3 535.1,600.0 535.5,601.5 535.9,603.6 537.3,602.3 538.4,601.3 539.2,598.6 540.0,599.7 540.8,596.4 541.7,597.0 542.9,595.2 543.7,598.8 544.1,597.5 544.6,602.3 545.4,602.1 546.8,603.6 547.9,601.3 549.0,602.6 550.3,599.9 551.8,599.9 552.3,596.3 552.7,596.4 553.5,597.1 554.3,599.8 555.0,599.6 555.9,602.5 556.9,599.3 557.9,599.5 559.0,597.8 560.0,601.9 561.0,600.5 562.2,601.8 563.4,598.4 564.2,601.0 564.8,601.5 565.5,604.7 566.2,604.2 567.5,604.9 568.9,603.2 570.3,603.8 571.7,600.6 572.9,601.6 574.1,598.5 574.8,600.9 575.4,601.4 575.9,604.5 576.4,604.9 577.0,607.3 578.1,606.4 579.5,609.8 580.6,607.6 581.7,606.8 582.7,603.7 584.3,605.5 585.8,602.1 587.2,605.6 588.6,604.3 589.7,605.6 590.8,601.5 591.8,602.4 592.8,602.6 593.8,604.7 594.9,605.1 596.1,608.7 597.2,607.4 598.1,607.1 599.0,604.5 599.9,603.7 601.4,603.4 602.8,605.8 604.2,606.3 605.6,607.6 607.0,607.2 608.3,609.3 609.3,606.9 610.3,606.0 611.8,604.0 613.4,606.4 614.6,603.9 615.8,604.4 616.8,603.2 617.9,606.9 618.9,605.5 619.9,606.4 620.9,603.8 622.0,603.2 623.2,601.5 624.5,602.0 626.1,599.9 627.4,599.1 628.4,596.1 629.5,596.7 630.3,593.3 631.0,593.5 631.8,591.0 632.5,591.6 633.0,591.4 633.5,595.5 634.1,595.0 634.7,599.0 635.3,597.8 635.9,601.4 636.5,601.4 637.1,603.6 637.7,601.0 638.3,601.0 638.9,597.0 639.4,597.8 640.3,594.6 641.3,594.5 642.2,594.0 643.0,597.5 643.9,597.6 645.2,597.8 646.6,595.4 648.1,597.2 649.5,597.0 650.9,598.3 652.3,595.4 653.1,595.7 654.0,592.1 654.9,592.1 655.4,592.6 655.8,596.6 656.3,595.9 656.8,598.9 657.4,599.6 658.0,601.7 658.6,602.6 659.2,606.1 659.8,603.1 660.4,604.3 661.0,599.5 661.6,600.6 662.2,596.4 662.9,600.4 663.7,600.3 664.4,604.2 665.5,601.5 666.9,603.7 668.0,601.6 668.7,605.2 669.5,604.7 670.3,608.6 671.0,604.0 671.8,604.6 672.5,601.0 673.2,602.5 673.8,603.6 674.4,606.6 675.0,606.5 675.6,609.4 676.4,606.5 677.1,606.1 677.9,603.3 678.6,604.3 679.4,604.6 680.2,607.4 680.9,607.1 681.9,609.2 682.9,606.1 683.9,605.4 684.6,606.3 685.4,609.0 686.2,609.7 687.1,610.4 688.3,607.6 689.4,609.5 689.7,608.3 690.0,613.3 690.4,611.8 690.7,615.6 691.0,616.3 691.4,618.8 691.7,619.2 692.1,622.3 692.8,619.0 693.6,619.0 694.3,615.4 695.2,617.2 696.2,617.3 697.3,621.0 698.1,617.1 698.8,617.4 699.6,615.0 700.4,616.0 701.4,616.0 702.5,617.6 703.3,616.1 704.1,616.4 704.8,613.6 705.6,612.5 706.6,610.7 707.6,611.0 708.5,608.7 709.0,612.7 709.4,611.4 709.9,616.0 710.4,615.9 710.9,617.9 711.6,616.6 712.4,615.9 713.1,613.0 714.0,612.2 715.1,609.9 716.1,609.7" fill="none" stroke="#000000" stroke-width="3.8" stroke-linejoin="round" stroke-linecap="round" stroke-miterlimit="4"/>
<polyline points="136.8,551.6 136.9,546.8 137.0,547.9 137.1,542.4 137.2,543.8 137.3,538.5 137.4,538.4 137.5,535.4 137.9,536.3 138.6,531.2 139.0,535.7 139.3,535.6 139.5,538.8 139.8,539.3 140.5,542.8 141.0,540.8 141.2,540.0 141.5,537.5 141.8,536.5 142.0,532.2 142.4,533.6 142.8,529.7 143.2,529.7 143.6,525.9 145.0,526.0 146.7,523.5 148.1,522.5 148.4,522.7 148.7,526.9 149.0,528.0 149.3,532.4 149.5,530.7 149.7,535.0 150.0,534.5 150.2,539.4 150.5,539.0 150.9,542.7 151.3,542.4 151.6,547.6 152.3,544.5 152.7,546.3 152.8,542.0 152.9,541.3 153.1,538.2 153.2,536.9 153.3,534.4 153.5,533.2 153.8,529.4 154.1,528.6 154.4,525.3 155.9,526.3 157.6,525.6 158.8,527.9 159.2,523.3 159.7,523.0 160.1,519.4 161.7,520.9 162.2,521.3 162.8,525.3 163.4,524.1 164.0,523.7 164.6,518.6 165.4,521.9 166.1,522.1 166.8,523.0 167.6,519.3 168.2,521.8 168.7,523.6 169.3,525.6 169.8,521.4 170.4,521.8 170.9,519.3 171.4,524.7 171.9,522.9 172.3,526.4 172.8,523.0 173.3,522.9 173.8,518.9 174.4,522.5 175.1,522.7 175.7,524.8 176.3,519.6 176.9,521.0 177.4,520.9 177.9,525.0 178.6,525.9 179.9,529.3 180.8,528.0 181.5,532.4 182.0,531.8 182.5,536.7 183.4,536.7 184.5,538.2 185.1,535.3 185.8,533.9 186.6,531.7 187.5,532.6 188.4,531.0 189.3,535.1 190.2,536.5 191.6,537.4 192.3,535.8 193.0,539.5 194.0,539.9 195.4,543.0 196.5,538.9 197.4,539.7 198.0,536.1 198.7,535.1 199.8,531.5 201.5,533.5 203.3,533.4 204.9,536.6 206.3,533.3 207.7,533.8 208.3,532.4 209.0,537.4 209.9,534.0 211.3,535.0 212.5,535.3 213.1,538.4 213.8,537.9 214.7,538.4 215.8,535.2 216.8,537.9 217.2,536.2 217.5,541.8 217.9,540.9 218.4,544.4 220.0,541.8 220.9,546.0 221.8,546.3 222.7,549.5 223.3,550.3 223.9,553.2 225.0,550.6 226.2,552.9 227.1,547.9 228.4,548.7 229.4,547.9 230.3,550.6 231.2,551.6 232.1,555.5 233.0,554.0 234.2,558.0 235.0,557.5 235.4,562.5 235.8,561.6 236.2,566.2 236.5,565.4 236.9,569.6 237.2,569.4 238.2,573.1 238.8,570.5 239.1,571.0 239.4,566.1 239.7,566.1 241.2,564.7 242.6,567.1 243.7,565.4 244.6,568.4 246.0,568.7 246.7,568.7 247.3,564.9 247.9,565.3 248.6,560.8 249.2,562.4 249.7,561.5 250.1,565.7 250.6,565.7 251.3,570.3 251.9,569.1 253.1,571.2 254.6,568.9 256.0,573.6 256.5,572.4 257.0,577.7 257.5,575.8 257.9,580.7 258.4,580.5 258.9,583.8 259.5,583.7 260.2,589.2 260.8,588.2 261.4,592.5 262.3,591.4 264.0,595.4 265.7,594.7 266.9,598.0 267.8,597.1 269.4,600.8 271.1,599.6 272.9,602.6 274.6,598.8 276.2,600.5 277.8,596.7 279.3,596.7 280.7,596.7 282.1,599.3 282.2,599.1 282.3,602.9 282.4,603.0 282.6,607.7 282.7,608.3 282.8,611.3 283.7,611.7 284.7,613.1 285.9,611.1 286.8,611.9 287.5,612.8 288.1,615.3 288.7,613.0 289.4,612.1 290.5,610.6 291.5,612.1 292.2,607.8 292.9,607.6 293.5,604.8 293.7,608.6 294.0,609.8 294.3,613.1 294.6,613.7 294.9,616.8 295.1,616.8 295.4,621.2 295.6,622.4 295.9,625.7 296.1,626.3 296.4,629.5 297.0,629.7 297.6,633.4 298.7,630.4 299.6,634.2 300.1,633.6 300.6,638.0 301.1,635.6 301.6,635.6 302.1,632.7 302.9,632.5 304.5,629.0 306.2,633.0 307.2,628.5 307.5,629.7 307.9,625.8 308.3,626.4 308.7,622.6 309.1,620.9 309.5,617.6 309.9,618.0 310.6,614.6 311.3,614.3 311.7,612.6 312.0,617.1 312.3,617.5 312.6,620.8 312.9,621.7 313.3,626.2 313.7,625.5 314.1,630.1 314.5,628.2 315.1,629.3 315.8,625.7 316.8,626.4 318.0,621.9 319.2,622.1 320.4,619.0 321.1,619.8 321.7,614.9 323.0,615.6 324.5,614.7 325.1,617.8 325.8,618.2 327.0,618.8 328.2,615.7 329.4,616.3 330.5,612.2 331.4,615.7 332.1,614.4 332.6,614.1 333.0,609.7 333.6,611.2 334.2,607.3 334.9,606.5 336.3,607.1 337.0,611.3 337.6,610.6 338.2,614.3 338.8,614.0 339.5,618.1 340.4,617.4 341.3,621.9 342.2,622.0 342.9,625.6 343.5,625.4 344.2,629.0 344.8,629.1 345.4,632.3 346.3,632.4 347.1,634.8 347.8,631.2 348.4,631.5 349.0,627.0 349.7,626.3 350.5,626.1 351.3,629.3 352.0,628.5 352.6,634.0 353.1,630.9 353.4,630.0 353.6,626.5 353.9,626.9 354.2,622.9 354.6,624.3 355.5,623.4 356.3,625.5 356.9,620.8 357.5,622.1 357.9,622.5 358.3,626.9 358.7,626.8 359.1,629.7 359.6,629.4 360.1,633.2 360.5,632.5 360.9,633.6 361.2,629.4 361.5,628.8 361.8,624.7 363.2,627.4 364.9,624.6 366.0,625.8 366.6,625.6 367.3,629.6 368.5,629.5 369.7,632.1 370.9,632.2 372.1,636.6 373.3,636.5 374.7,638.5 376.3,637.5 376.7,642.7 377.1,641.7 377.5,645.1 377.9,644.9 378.3,646.3 378.6,640.4 379.0,641.8 379.6,638.4 380.5,638.4 381.1,636.9 381.5,640.6 381.8,639.4 382.2,644.7 382.7,641.8 383.2,640.7 383.7,636.4 384.2,636.5 384.6,633.1 385.1,633.2 386.3,630.6 388.0,631.0 389.6,628.6 390.6,627.2 391.5,624.4 392.4,623.5 393.1,621.4 393.8,620.8 394.4,616.7 394.9,621.9 395.4,621.8 395.9,624.9 396.2,625.4 396.5,629.2 396.7,629.0 397.0,633.8 397.3,633.2 397.7,636.0 398.2,636.4 398.7,640.1 399.9,638.7 401.4,640.5 402.2,639.5 403.1,644.2 403.9,641.1 404.5,641.0 405.1,638.6 405.6,642.1 406.0,642.1 406.5,646.5 406.8,647.2 407.2,649.9 407.5,650.7 407.8,654.9 408.4,652.7 409.1,652.6 409.8,648.0 410.6,647.6 411.4,644.3 412.3,644.1 413.1,641.8 413.3,641.2 413.6,637.6 413.8,637.8 414.1,633.1 414.3,632.8 414.6,628.5 414.8,628.2 415.0,624.7 415.2,624.3 415.4,621.9 415.7,622.1 415.9,616.8 416.2,618.0 416.6,619.3 417.0,623.4 417.4,622.1 417.8,627.0 418.3,627.0 418.7,626.9 419.2,623.0 419.7,622.2 421.0,621.9 421.6,625.7 422.0,625.7 422.4,629.1 422.8,630.0 423.3,633.9 423.7,632.9 424.2,637.7 425.1,634.2 426.0,635.4 427.4,634.0 428.8,637.7 429.7,637.1 430.6,641.5 431.4,639.3 432.0,638.4 432.6,636.2 432.9,634.7 433.2,632.3 433.5,632.2 433.8,627.4 434.1,627.9 434.4,627.4 434.8,630.3 435.2,629.6 435.6,634.5 436.7,634.1 437.9,637.4 438.1,634.2 438.4,632.8 438.6,630.2 438.9,629.2 439.1,625.7 439.4,626.3 440.1,622.4 440.9,621.3 441.7,618.7 442.3,621.5 443.0,622.5 443.6,625.5 444.1,624.0 444.4,623.0 444.7,619.1 445.0,619.7 445.3,615.1 445.6,616.4 445.9,611.7 446.1,612.0 447.0,610.5 447.9,614.5 448.8,613.4 449.7,613.5 450.6,609.8 451.4,613.8 452.3,613.8 453.5,615.5 455.1,613.9 457.1,614.3 459.0,614.1 460.8,616.0 461.5,612.0 461.8,612.7 462.2,609.3 462.5,608.9 462.8,606.1 463.1,610.1 463.3,609.2 463.6,612.9 463.8,614.1 464.0,617.9 464.4,616.4 465.6,618.0 466.7,614.9 467.6,619.5 468.5,619.3 469.7,621.0 471.2,620.7 472.7,624.3 474.1,624.0 474.3,623.2 474.4,618.1 474.6,619.1 474.8,615.4 474.9,614.3 475.1,612.0 475.3,611.9 475.4,607.1 475.6,608.0 476.1,604.1 476.6,602.7 477.1,600.2 477.4,599.1 477.7,596.3 478.1,594.9 478.4,591.6 478.7,591.1 479.1,588.4 479.4,586.6 479.7,582.6 480.0,582.9 480.7,582.7 481.4,586.4 482.1,586.4 482.5,587.2 482.8,584.4 483.1,583.3 483.4,580.0 483.7,581.0 483.9,577.0 484.2,581.9 484.4,581.8 484.6,584.2 484.8,585.1 485.0,589.1 485.3,589.0 485.7,592.9 486.3,592.8 486.9,597.1 487.1,591.8 487.2,592.3 487.4,588.8 487.5,589.3 487.7,585.2 487.8,583.9 488.0,581.1 488.1,579.9 488.3,576.2 488.5,577.4 489.0,573.2 489.5,572.1 490.0,570.2 490.9,572.7 491.4,573.9 491.5,576.9 491.6,576.9 491.7,580.5 491.8,581.9 491.9,585.4 492.0,585.9 492.0,588.4 492.1,589.5 492.2,592.8 492.3,593.8 492.4,596.9 492.5,597.4 492.5,601.5 492.6,600.5 492.8,601.4 493.0,596.3 493.2,597.1 493.3,592.5 493.5,592.5 493.7,588.0 494.3,589.1 495.0,583.9 495.3,588.0 495.4,587.2 495.6,591.1 495.7,590.9 495.8,595.3 496.0,596.3 496.1,598.7 496.3,600.2 496.4,603.0 496.6,603.2 496.8,606.7 497.7,604.3 498.5,604.1 499.1,599.5 499.7,598.9 499.9,600.7 500.0,603.1 500.2,604.1 500.3,608.5 500.5,606.9 500.6,612.0 500.8,612.3 500.9,615.6 501.1,616.1 501.3,618.7 501.5,616.0 501.8,615.2 502.0,610.4 502.3,611.5 502.5,607.9 502.8,607.6 503.3,608.2 503.7,611.9 504.2,611.5 504.7,616.2 505.7,614.3 507.3,617.3 508.2,618.2 509.1,622.5 509.9,619.4 510.6,619.3 511.3,615.7 512.0,617.6 512.7,616.0 513.4,620.8 514.2,619.7 515.4,624.4 516.4,623.7 516.6,623.6 516.9,619.2 517.2,618.1 517.5,614.1 517.8,614.1 518.2,610.9 518.5,611.1 518.9,606.4 519.3,607.2 519.8,608.0 520.3,610.9 520.8,611.9 521.3,615.3 521.8,615.4 522.5,619.5 523.3,619.4 523.9,621.8 524.2,618.6 524.5,619.1 524.8,613.4 525.1,614.8 525.4,609.9 525.7,610.0 526.0,606.9 526.4,609.1 526.8,608.4 527.3,611.4 527.7,612.9 527.9,615.5 528.1,615.8 528.3,621.0 528.5,620.8 528.7,624.8 528.9,624.6 529.1,628.6 529.4,624.0 529.7,625.0 530.0,620.2 530.3,620.5 530.5,617.8 530.8,616.8 531.1,612.7 531.5,613.2 532.2,614.0 532.8,617.3 533.1,615.1 533.4,613.8 533.7,610.4 534.0,610.2 534.2,605.8 534.6,608.2 534.9,607.4 535.3,613.0 535.7,611.4 536.1,616.6 536.4,615.9 536.8,618.7 537.2,614.0 537.5,614.4 537.9,610.5 538.3,611.1 538.6,606.7 539.0,607.4 539.3,608.7 539.6,611.0 539.9,612.1 540.2,615.9 540.5,615.2 540.8,620.2 541.1,620.1 541.4,622.0 541.7,617.6 542.0,617.6 542.4,614.1 542.7,613.7 543.0,608.9 543.3,610.2 543.9,607.5 544.4,612.6 545.0,611.5 545.6,616.5 546.0,612.5 546.3,612.2 546.6,608.8 546.9,609.6 547.3,606.3 547.6,610.7 547.9,609.7 548.3,613.5 548.6,614.7 548.9,617.5 549.2,618.3 549.5,620.5 549.6,615.4 549.7,617.0 549.9,611.9 550.0,611.9 550.1,609.0 550.2,608.6 550.3,604.1 550.4,604.6 550.6,600.4 550.7,601.0 550.8,596.8 550.9,595.8 551.3,594.8 551.9,598.4 552.5,597.3 553.1,601.3 553.8,601.6 554.4,606.3 555.8,603.9 557.4,603.8 558.3,604.3 559.2,608.9 560.1,606.9 561.3,608.5 562.5,604.6 563.2,607.7 563.7,607.7 564.3,612.5 564.9,612.0 565.4,614.6 565.9,610.9 566.4,612.1 566.9,607.8 567.3,606.3 567.6,604.0 567.8,603.4 568.1,599.1 568.4,598.7 568.6,595.9 568.9,595.5 569.2,591.1 569.5,591.8 569.7,586.9 570.0,588.0 570.3,588.9 570.6,593.5 570.9,591.9 571.2,596.4 571.5,596.0 571.8,601.0 572.1,599.8 572.4,604.1 572.7,603.4 572.9,604.5 573.2,599.9 573.5,599.1 573.8,596.5 574.0,595.2 574.3,592.7 574.6,591.2 574.8,587.7 575.1,587.2 575.5,584.1 576.7,588.7 577.9,587.2 578.2,592.4 578.4,591.3 578.6,596.6 578.7,594.8 578.9,600.0 579.1,598.8 579.3,602.9 579.5,604.5 579.7,606.8 579.8,608.3 580.3,607.8 580.8,604.2 581.3,604.5 581.7,599.7 582.2,599.5 582.7,596.5 583.2,596.5 583.7,592.7 584.2,591.8 584.7,590.7 585.1,594.6 585.6,594.4 586.1,598.7 586.6,597.7 587.1,603.5 587.6,599.5 588.1,599.2 588.5,594.3 589.0,594.4 589.5,591.7 590.0,592.5 590.6,592.7 591.2,596.8 591.8,595.4 592.3,600.0 593.0,597.9 593.7,597.6 594.4,593.4 595.1,594.5 595.8,593.0 596.5,596.6 597.2,597.2 597.9,601.4 598.6,597.0 599.3,596.2 600.0,593.4 600.7,593.2 601.6,593.2 602.5,596.5 603.5,597.5 605.1,599.4 606.6,599.5 607.8,604.1 608.9,602.7 609.3,606.5 609.7,605.8 610.1,609.8 610.5,610.9 611.0,615.1 611.4,615.5 611.7,616.2 612.0,612.0 612.2,610.8 612.5,608.3 612.8,607.7 613.0,604.0 613.3,603.8 613.6,600.7 613.9,599.3 614.1,594.9 614.4,598.4 614.7,598.5 615.0,601.6 615.3,602.8 615.6,607.3 615.9,606.0 616.2,610.4 616.5,611.2 616.8,614.1 617.8,612.1 619.4,613.5 620.1,613.0 620.6,617.9 621.0,616.8 621.5,621.3 622.0,621.9 622.5,622.8 622.8,619.2 623.1,619.6 623.4,615.1 623.8,616.5 624.1,611.1 624.4,611.7 624.8,606.9 625.1,608.6 625.6,607.2 626.1,611.3 626.5,611.4 627.0,615.7 627.5,614.8 628.3,619.2 629.5,615.2 630.7,615.4 631.9,615.6 633.1,618.7 634.3,615.9 635.5,616.2 636.1,612.7 636.5,611.3 636.8,608.1 637.1,607.2 637.5,604.3 637.8,604.9 638.1,599.4 638.4,599.6 638.8,598.7 639.1,602.4 639.4,600.8 639.6,605.9 639.9,606.4 640.2,609.1 640.5,608.8 640.8,614.5 641.1,614.5 641.4,615.9 641.7,612.7 642.0,612.1 642.2,608.1 642.5,608.4 642.8,604.1 643.0,604.0 643.3,600.7 643.6,601.7 643.9,596.3 644.2,596.8 644.8,598.3 645.3,601.7 645.9,601.6 646.5,605.0 646.9,603.3 647.1,603.4 647.3,598.3 647.5,598.8 647.7,595.1 647.9,594.8 648.1,591.2 648.3,591.8 648.5,588.1 648.8,588.9 649.2,588.5 649.6,591.8 650.0,592.2 650.4,596.6 650.9,596.7 651.3,600.9 652.1,599.9 653.0,603.4 653.9,604.0 654.5,603.6 655.1,600.8 655.7,600.4 656.3,597.7 656.9,597.1 657.8,597.4 658.7,601.4 659.5,599.5 659.9,600.1 660.2,596.3 660.6,596.9 661.0,591.6 661.3,593.4 661.7,587.6 662.1,588.2 662.6,588.3 663.2,592.4 663.8,592.3 664.3,595.3 664.9,594.6 665.4,595.2 665.9,591.4 666.4,592.1 666.8,587.7 667.3,587.5 667.8,584.6 668.2,588.5 668.6,589.4 669.0,593.1 669.5,592.9 669.9,596.4 670.3,597.1 670.9,596.2 671.4,594.0 672.0,593.0 672.6,590.1 673.3,590.5 674.5,586.4 675.7,585.9 676.2,585.7 676.7,590.7 677.2,590.6 677.7,594.7 678.1,593.8 678.9,596.3 680.1,592.7 681.3,592.8 682.0,589.9 682.7,590.3 683.4,585.8 684.3,586.8 686.0,583.5 686.9,585.1 687.4,586.6 687.9,590.1 688.3,589.5 688.8,592.6 689.3,594.4 690.0,598.0 690.7,597.2 691.4,601.8 692.2,601.9 693.1,604.9 694.0,605.3 694.8,608.2 695.0,603.5 695.3,604.0 695.6,600.3 695.8,600.7 696.1,596.6 696.4,595.0 696.7,591.5 696.9,591.0 697.2,588.7 697.5,588.3 698.1,588.0 698.6,593.0 699.2,591.7 699.8,595.2 700.3,594.1 700.7,595.1 701.0,591.2 701.4,591.0 701.8,587.0 702.1,586.2 702.5,583.6 702.9,583.3 703.2,582.7 703.5,587.5 703.8,586.8 704.1,590.0 704.4,591.2 704.6,594.2 704.9,593.7 705.2,598.0 705.5,599.4 705.9,598.7 706.2,595.9 706.5,594.9 706.9,590.9 707.2,591.5 707.5,587.8 707.8,586.5 708.2,583.3 708.6,586.1 709.0,585.8 709.4,589.8 709.8,588.8 710.2,592.9 710.6,594.0 711.2,597.4 712.4,597.0 713.6,601.4 714.7,597.2 715.8,597.9 716.1,596.2" fill="none" stroke="#A5A5A5" stroke-width="3.8" stroke-linejoin="round" stroke-linecap="round" stroke-miterlimit="4"/>
<polyline points="137.0,735.3 137.5,736.5 137.9,738.7 138.3,739.6 138.7,739.4 139.2,737.1 139.6,735.9 140.0,733.9 140.5,735.3 141.1,736.5 141.7,737.9 142.1,736.3 142.6,735.1 143.0,732.6 143.7,734.4 144.3,735.6 144.9,735.4 145.4,732.6 145.9,733.5 146.3,734.3 146.8,736.9 147.4,737.6 148.3,739.6 149.2,739.7 150.4,738.9 151.6,738.2 153.0,739.3 154.2,737.4 155.3,737.0 156.4,735.3 157.6,736.0 158.7,736.3 159.8,738.2 161.1,738.7 162.4,739.7 163.9,739.7 165.4,739.9 166.6,738.1 167.5,737.4 168.2,735.9 168.5,738.3 168.8,739.3 169.0,741.8 169.6,741.1 170.8,740.7 172.1,739.9 173.6,741.3 175.2,740.7 176.7,742.5 178.0,742.6 179.1,744.7 180.2,743.1 181.3,742.6 182.2,742.9 183.1,745.0 183.9,743.6 184.6,742.6 185.3,740.6 186.2,743.1 187.1,743.3 188.4,745.2 189.9,744.8 191.2,746.5 192.3,746.6 193.4,748.5 194.6,746.5 195.7,747.1 197.1,746.5 198.4,748.6 199.7,748.5 201.1,750.0 202.1,750.6 202.9,753.0 204.1,752.0 205.5,752.7 207.0,751.1 207.7,752.6 208.1,753.3 208.6,755.3 209.0,756.5 209.5,758.1 210.0,756.4 210.5,755.0 211.0,752.8 211.6,752.5 212.4,753.5 213.3,755.4 214.4,755.5 215.6,757.4 216.7,758.1 217.8,760.0 218.9,758.9 219.7,758.9 220.6,756.8 221.2,759.2 221.8,760.1 222.4,762.2 223.0,760.3 223.8,760.4 224.5,758.1 225.9,757.6 226.9,757.9 227.6,759.7 228.3,760.5 229.5,761.0 230.9,759.4 232.3,759.5 233.8,759.6 235.2,761.0 236.6,761.1 237.7,762.6 238.4,759.8 239.2,759.4 240.2,758.1 241.5,760.0 242.8,759.9 243.9,759.6 244.9,758.1 245.8,760.8 246.7,760.3 247.4,759.9 248.1,757.8 249.0,756.9 250.1,755.2 251.3,754.6 252.4,753.3 252.9,754.6 253.4,755.8 253.8,757.8 254.2,759.0 255.1,758.1 256.1,756.7 257.4,756.0 258.9,755.1 260.4,755.2 262.0,754.5 263.4,755.0 264.5,753.2 265.6,752.4 266.8,750.9 268.3,752.0 269.8,752.0 271.2,752.1 272.5,751.1 273.6,753.4 275.1,753.2 276.6,754.2 278.2,754.1 279.8,754.4 281.4,754.0 282.0,756.0 282.2,756.8 282.5,758.6 282.7,759.4 283.0,762.1 283.3,763.2 283.5,765.3 283.9,766.4 284.6,768.3 285.3,768.5 286.1,771.3 287.3,771.2 288.2,773.2 288.9,774.2 289.6,776.0 290.3,776.7 291.0,779.2 291.8,779.6 292.4,781.9 292.9,783.0 293.5,785.3 294.4,785.1 295.6,787.7 296.7,787.6 298.0,789.8 299.3,789.4 300.4,789.7 301.3,787.8 302.4,787.6 304.0,787.3 305.6,787.6 307.1,787.9 308.4,788.0 309.6,786.1 310.7,786.3 312.1,785.4 313.6,787.0 315.2,785.5 316.8,787.1 317.4,787.5 317.9,789.4 318.4,790.6 318.9,792.5 319.4,793.7 319.9,795.8 320.4,796.1 320.9,799.0 322.4,797.9 323.9,799.5 325.0,799.4 326.2,801.3 327.3,801.7 328.7,803.9 330.0,803.4 331.1,805.8 332.3,805.9 333.5,807.4 335.0,807.1 336.5,808.5 338.1,808.1 339.2,810.4 339.7,810.8 340.1,813.0 340.6,813.4 341.0,816.3 341.4,817.2 341.8,818.9 342.2,820.3 342.6,822.7 342.9,822.9 344.0,824.3 345.3,824.0 346.1,826.8 346.8,827.0 347.6,829.1 348.5,829.8 349.4,831.6 350.5,832.6 351.4,834.7 352.0,834.9 352.6,837.3 353.3,837.6 354.4,839.8 355.6,839.8 356.9,842.1 358.2,842.1 359.1,843.8 360.0,844.7 361.1,846.3 362.2,846.8 363.4,848.4 364.8,847.2 366.3,847.1 367.8,846.1 369.2,847.9 370.6,848.1 371.9,849.9 373.2,848.8 374.6,849.0 376.0,847.3 377.5,847.8 378.2,845.7 378.7,845.0 379.2,843.1 379.5,844.2 379.8,845.2 380.1,847.0 380.6,847.7 382.2,848.4 383.7,847.8 385.3,848.2 386.8,846.8 388.4,847.1 389.8,845.9 391.1,845.9 392.3,845.6 393.4,847.4 394.9,847.6 395.5,847.5 395.8,845.5 396.0,844.7 396.3,842.1 396.5,841.4 396.8,838.7 397.3,841.4 397.9,841.8 398.5,844.1 399.0,844.7 399.5,847.1 400.0,847.6 401.4,849.2 402.9,849.0 404.4,850.3 405.9,849.7 407.4,851.5 408.9,850.9 410.2,853.3 411.3,851.6 412.5,851.2 414.1,849.9 415.7,851.4 417.2,851.0 418.6,851.9 419.7,852.6 421.0,852.8 422.4,851.7 423.7,851.1 425.1,849.6 426.4,849.9 427.8,847.7 429.1,847.7 430.5,846.2 430.6,846.7" fill="none" stroke="#000000" stroke-width="3.0" stroke-linejoin="round" stroke-linecap="round" stroke-miterlimit="4"/>
<polyline points="430.6,846.7 450.7,844.7 471.8,843.3 490.9,845.3 510.6,847.7 525.3,843.3 554.9,834.9 588.6,826.4 620.3,822.2 698.4,822.2 746.1,846.3 766.2,847.9 776.6,821.2 789.7,814.1 811.4,845.3 872.3,807.1 879.7,820.8 911.5,829.6" fill="none" stroke="#000000" stroke-width="3.0" stroke-linejoin="miter" stroke-linecap="butt" stroke-miterlimit="4"/>
<polyline points="136.0,1015.6 155.0,987.1 174.0,977.6 193.0,1009.7 211.4,1012.4 228.2,1012.9 239.4,1012.4 248.6,1036.5 267.0,1026.5 277.1,1018.9 286.0,1021.9 301.8,1021.9 312.4,1040.1 322.1,1046.3 327.3,1026.5 332.7,1040.1 337.6,1037.3 343.0,1031.1 347.9,1028.7 353.1,1034.6 357.1,1097.0 362.8,1114.1 368.0,1113.3 372.9,1100.3 377.5,1099.8 383.4,1102.2 387.9,1088.9 393.5,1106.7 398.3,1089.8 404.8,1108.6 413.8,1099.6 423.6,1071.5 433.5,1074.9 444.7,1093.2 458.2,1087.5 476.5,1060.0 494.8,1079.7 513.1,1074.3 531.4,1078.5 550.2,1077.1 568.0,1076.3 605.1,1047.3 623.4,1070.6 641.5,1061.5 669.0,1082.9 705.6,1091.3 729.5,1082.3 751.7,1073.6 770.0,1081.8 788.6,1072.5 807.4,1078.4 825.1,1082.1 843.4,1098.1 862.0,1070.8 880.6,1081.5 898.0,1093.3 911.5,1092.5" fill="none" stroke="#000000" stroke-width="2.9" stroke-linejoin="miter" stroke-linecap="butt" stroke-miterlimit="4"/>
<polyline points="136.0,1188.8 136.2,1189.1 136.3,1191.5 136.4,1191.5 136.6,1194.5 136.7,1195.3 136.8,1199.1 137.0,1199.1 137.1,1201.7 137.2,1201.5 137.3,1204.1 137.4,1205.0 137.5,1208.4 137.6,1208.1 137.8,1211.2 138.7,1208.5 139.3,1209.5 139.6,1210.5 140.0,1213.1 140.4,1212.3 141.2,1214.2 142.1,1211.2 142.7,1214.5 143.3,1214.2 143.7,1217.1 143.9,1218.0 144.1,1221.2 144.2,1220.5 144.4,1224.0 144.6,1223.6 145.0,1222.6 145.5,1220.3 145.9,1219.5 146.2,1217.7 146.5,1220.9 146.7,1220.7 147.0,1225.1 147.2,1225.2 147.5,1227.5 147.8,1227.7 148.4,1229.9 149.1,1230.6 149.8,1231.3 150.6,1228.2 151.4,1228.0 152.5,1225.7 153.8,1226.5 155.1,1224.9 155.4,1228.3 155.7,1229.5 156.0,1231.2 156.2,1231.8 156.5,1234.3 157.0,1235.6 157.4,1238.1 157.8,1236.4 158.1,1236.9 158.4,1234.1 158.7,1234.1 158.9,1231.4 159.3,1230.9 160.2,1228.4 161.1,1228.3 162.0,1227.0 162.9,1230.0 163.7,1230.4 164.4,1233.7 165.1,1233.9 166.2,1235.7 167.3,1234.9 168.2,1239.4 169.1,1238.9 169.4,1239.2 169.6,1234.9 169.8,1235.2 170.1,1232.3 170.8,1232.7 172.2,1232.7 172.8,1232.9 173.4,1229.4 174.0,1230.1 174.7,1227.3 175.4,1226.5 176.1,1223.2 176.7,1224.0 177.3,1220.9 177.9,1220.8 178.5,1217.1 179.1,1218.1 179.7,1215.6 180.2,1217.6 180.6,1217.3 181.0,1220.1 181.8,1219.4 182.9,1219.3 183.4,1216.7 183.7,1215.7 184.0,1213.0 184.2,1212.6 185.5,1210.3 186.9,1210.9 188.3,1208.9 189.3,1210.2 190.0,1208.1 190.3,1211.6 190.6,1211.6 190.8,1214.8 191.1,1214.5 191.4,1217.1 191.9,1216.7 192.3,1220.5 192.8,1220.6 194.1,1221.6 195.3,1218.6 196.5,1219.2 197.5,1216.6 198.1,1216.8 198.7,1213.5 199.3,1212.5 200.3,1209.7 201.4,1210.6 202.1,1210.2 202.8,1214.8 203.6,1210.9 204.5,1210.6 205.4,1209.1 205.9,1208.0 206.4,1205.5 206.9,1205.6 207.4,1201.6 208.5,1204.9 209.6,1204.6 210.3,1204.3 211.0,1201.7 212.0,1200.9 213.3,1199.0 214.6,1200.5 215.8,1200.4 216.9,1202.3 218.3,1201.0 219.9,1203.4 220.6,1202.8 221.3,1206.3 222.2,1203.8 223.1,1203.9 223.7,1200.1 224.1,1201.2 224.6,1197.5 225.0,1196.9 225.5,1195.1 226.3,1197.2 227.2,1197.5 228.5,1199.6 229.8,1199.3 231.0,1201.9 232.1,1201.4 232.8,1203.2 233.1,1204.4 233.5,1207.0 233.9,1206.9 234.3,1210.0 234.7,1210.6 235.1,1213.2 235.5,1212.5 235.9,1216.4 236.2,1215.6 236.6,1218.7 236.9,1218.6 237.2,1223.2 237.6,1222.5 237.9,1225.8 238.2,1225.6 238.5,1229.5 239.0,1229.5 239.4,1232.2 239.9,1231.8 241.0,1233.5 242.5,1231.2 243.6,1232.4 244.6,1230.4 245.2,1233.2 245.7,1232.8 246.2,1235.9 246.7,1235.6 247.2,1238.2 247.7,1238.7 248.2,1241.8 248.7,1241.3 249.5,1244.5 250.2,1244.2 250.8,1248.2 251.1,1247.6 251.5,1251.5 251.9,1249.1 252.3,1248.5 252.6,1245.0 253.0,1245.6 254.4,1244.3 255.8,1245.2 256.7,1243.5 257.6,1245.2 258.5,1245.3 259.3,1247.0 260.7,1246.8 262.3,1247.9 263.8,1245.8 265.3,1246.4 266.9,1245.1 268.4,1246.4 269.7,1243.8 271.0,1244.7 272.1,1244.3 273.3,1247.9 274.3,1246.6 275.1,1251.1 275.9,1249.6 276.4,1252.6 276.9,1253.4 277.4,1255.8 278.1,1255.6 279.3,1258.3 280.6,1258.4 282.2,1259.4 283.7,1259.6 285.2,1261.8 286.5,1258.2 287.6,1259.2 288.7,1256.3 289.9,1259.3 291.1,1258.7 292.6,1260.6 294.0,1259.7 294.7,1262.5 295.4,1263.2 296.2,1264.8 297.1,1262.3 297.9,1262.3 298.3,1261.7 298.8,1264.7 299.2,1266.1 299.6,1269.1 300.0,1269.2 300.3,1271.3 300.5,1271.1 300.8,1275.0 301.1,1275.3 301.8,1277.1 303.1,1277.5 304.4,1279.4 305.7,1278.5 307.0,1282.3 308.0,1280.7 308.9,1284.7 309.9,1283.0 311.0,1287.1 312.2,1285.3 313.6,1289.0 314.3,1288.7 314.7,1290.9 315.1,1291.5 315.6,1294.4 316.0,1294.2 316.4,1297.1 316.7,1296.7 317.1,1300.3 317.6,1299.9 318.5,1299.3 319.4,1296.8 320.2,1298.1 320.8,1297.7 321.3,1300.8 321.9,1301.3 323.1,1303.3 324.4,1303.1 325.9,1304.4 327.2,1304.0 327.9,1306.6 328.7,1306.6 329.7,1309.9 331.1,1309.2 331.7,1308.9 332.3,1305.9 332.9,1305.7 333.9,1302.8 335.2,1304.1 336.3,1301.8 337.3,1305.6 338.2,1305.4 338.9,1308.1 339.7,1308.1 340.6,1309.9 341.9,1309.8 343.3,1312.4 344.5,1311.2 345.8,1314.1 346.2,1313.8 346.6,1317.5 347.1,1318.1 347.7,1318.5 348.4,1315.5 349.1,1315.4 350.5,1315.3 351.8,1316.3 353.0,1314.2 354.1,1314.6 355.2,1313.4 356.4,1315.0 357.5,1315.7 358.8,1317.6 360.3,1314.2 361.7,1316.2 363.0,1313.5 364.2,1315.4 365.2,1314.4 366.2,1316.7 367.5,1316.3 368.8,1318.8 370.1,1318.8 371.3,1320.6 372.6,1318.5 374.0,1318.8 375.6,1317.6 376.9,1319.3 378.1,1315.9 379.0,1317.6 379.9,1317.8 381.1,1319.6 382.5,1318.4 383.1,1319.0 383.7,1315.1 384.3,1316.1 385.2,1312.2 386.1,1312.5 387.1,1310.6 388.0,1312.2 388.9,1311.7 389.7,1313.2 390.4,1310.9 391.2,1311.2 391.9,1308.0 393.4,1310.0 394.6,1308.2 395.5,1309.2 396.4,1306.4 397.6,1305.6 398.7,1302.9 399.9,1304.3 401.4,1302.3 401.9,1301.2 402.4,1299.1 402.9,1298.8 403.4,1295.0 404.9,1297.3 406.4,1297.1 407.3,1299.9 408.2,1299.4 409.3,1301.0 410.4,1296.9 411.3,1298.6 412.1,1294.6 412.9,1295.2 413.7,1293.7 414.6,1296.5 415.5,1295.8 416.9,1296.2 418.2,1293.6 419.2,1295.0 420.2,1291.2 421.2,1292.3 422.4,1289.3 423.7,1291.2 424.6,1289.2 425.5,1289.8 426.5,1285.9 427.4,1287.4 428.4,1284.3 429.3,1284.1 430.2,1280.5 431.6,1283.6 432.9,1282.0 434.3,1283.8 435.6,1281.1 437.1,1280.9 438.6,1279.0 439.6,1280.0 440.5,1277.4 441.5,1277.8 442.7,1276.7 444.0,1278.4 444.8,1279.1 445.5,1281.0 446.3,1279.8 447.3,1280.4 448.3,1277.1 449.4,1279.4 450.8,1278.7 452.2,1279.8 453.7,1279.9 454.5,1280.4 455.0,1277.6 455.4,1277.4 455.8,1275.0 456.4,1278.3 456.9,1277.5 457.4,1281.6 457.8,1279.3 458.1,1279.5 458.4,1277.1 458.7,1277.6 459.1,1273.9 459.4,1273.4 459.7,1270.6 460.6,1272.8 461.6,1272.4 462.5,1276.1 463.9,1275.8 465.2,1277.4 466.3,1273.9 467.4,1274.0 468.3,1271.3 469.0,1272.3 469.7,1268.8 470.2,1270.8 470.6,1272.0 471.0,1273.9 471.3,1272.4 471.6,1272.2 471.9,1268.8 472.2,1268.9 472.5,1266.9 472.7,1266.1 474.0,1265.9 475.3,1267.5 476.3,1266.0 477.1,1265.3 478.0,1262.6 478.8,1263.8 479.7,1260.3 480.6,1260.6 481.9,1258.4 483.4,1259.8 484.1,1258.5 484.4,1261.0 484.7,1261.4 485.0,1264.5 485.4,1264.8 485.8,1263.4 486.3,1260.5 486.8,1261.4 487.3,1258.2 487.8,1258.1 488.3,1254.6 488.7,1256.4 489.0,1256.7 489.3,1260.5 489.6,1259.5 490.1,1262.1 491.2,1260.0 492.4,1261.4 493.7,1260.1 494.9,1263.1 495.2,1263.0 495.5,1267.1 495.9,1266.6 496.2,1269.6 496.5,1268.9 496.8,1272.0 497.2,1269.6 497.6,1270.1 498.1,1267.4 498.5,1267.0 499.0,1264.2 499.9,1267.7 500.8,1267.0 501.6,1269.7 502.5,1269.5 503.3,1273.6 504.8,1270.7 506.1,1271.4 506.9,1269.2 507.7,1268.9 508.5,1266.7 509.3,1267.0 510.0,1265.9 510.7,1269.5 511.5,1269.1 512.2,1270.8 513.6,1267.8 515.0,1269.3 516.4,1266.7 517.7,1266.5 518.4,1267.2 519.1,1269.9 519.9,1269.2 520.5,1273.8 521.1,1272.1 521.7,1276.7 522.4,1276.3 523.8,1277.3 524.6,1276.1 525.1,1275.1 525.5,1273.3 526.0,1272.9 526.4,1270.1 527.1,1270.0 528.0,1267.1 528.4,1269.4 528.7,1269.0 528.9,1272.4 529.2,1272.3 529.5,1276.1 529.8,1275.8 530.3,1276.9 531.0,1274.1 531.7,1275.3 532.5,1273.4 533.4,1275.8 534.3,1275.4 535.8,1276.7 537.3,1274.2 538.9,1276.8 540.4,1275.7 541.8,1278.1 543.1,1276.6 544.3,1279.2 544.7,1275.9 545.1,1276.3 545.5,1273.0 545.9,1272.4 546.3,1270.0 546.7,1271.7 547.3,1270.8 547.9,1273.5 548.5,1274.1 549.8,1275.9 551.3,1273.6 552.4,1273.7 553.1,1271.0 553.8,1271.7 554.4,1269.6 554.9,1273.5 555.5,1272.6 556.0,1275.0 556.5,1275.9 557.4,1276.1 558.3,1273.5 559.5,1274.9 561.0,1272.8 562.2,1274.9 563.0,1272.0 563.7,1270.8 564.6,1268.2 566.0,1269.7 567.2,1268.8 568.4,1271.5 569.3,1268.6 570.2,1269.1 571.2,1266.7 572.3,1269.3 573.3,1267.7 574.0,1269.0 574.7,1265.9 575.6,1265.9 576.9,1262.8 578.2,1263.9 579.6,1262.7 580.9,1266.2 582.2,1263.5 583.3,1264.3 584.4,1261.5 585.4,1263.5 586.1,1262.7 586.9,1265.5 587.5,1265.4 587.9,1265.3 588.4,1261.7 588.8,1262.2 589.3,1259.9 589.7,1259.4 590.1,1259.3 590.5,1263.6 590.8,1262.8 591.2,1265.4 591.6,1265.6 592.1,1268.2 592.7,1264.8 593.3,1264.6 593.9,1261.9 595.1,1262.9 596.4,1262.5 597.6,1264.1 598.5,1262.4 599.4,1262.6 600.8,1260.4 602.3,1261.2 603.6,1259.3 604.7,1262.1 605.4,1262.5 605.9,1265.0 606.4,1265.0 606.9,1269.2 607.5,1267.0 608.2,1267.6 608.9,1264.5 609.8,1265.1 611.3,1264.0 612.8,1265.5 614.3,1264.1 615.6,1264.8 616.7,1262.2 617.9,1263.0 619.0,1260.4 620.1,1263.0 621.5,1263.4 623.0,1264.9 624.4,1263.7 625.8,1263.8 627.1,1261.1 627.9,1262.0 628.6,1258.7 629.3,1258.7 630.7,1255.9 632.2,1256.9 633.3,1256.9 634.3,1260.0 635.3,1259.4 636.3,1262.3 637.6,1259.7 639.0,1259.1 640.0,1259.1 641.0,1261.7 642.0,1261.6 643.1,1263.4 644.6,1261.8 646.1,1263.6 647.2,1261.8 648.3,1265.4 649.4,1264.7 650.1,1264.7 650.8,1262.0 651.6,1261.0 653.1,1259.1 654.6,1260.3 655.3,1260.9 655.8,1264.0 656.3,1264.0 656.8,1266.1 657.3,1265.5 657.9,1265.7 658.5,1261.7 659.1,1261.6 659.6,1262.0 660.0,1265.2 660.5,1265.0 660.9,1267.9 661.3,1267.2 661.8,1268.5 662.2,1265.2 662.7,1265.1 663.1,1262.5 663.5,1262.4 664.3,1261.7 665.2,1264.0 666.1,1264.1 667.3,1266.3 668.2,1264.6 668.8,1265.5 669.4,1262.1 670.0,1262.6 670.7,1261.8 671.4,1264.4 672.1,1263.2 673.2,1266.3 674.7,1263.8 676.3,1265.8 677.8,1263.4 679.3,1265.7 680.6,1264.1 681.9,1264.0 683.4,1262.8 684.9,1262.7 686.4,1261.7 687.9,1261.4 689.3,1260.6 690.2,1262.6 691.1,1263.2 691.7,1264.5 692.3,1260.5 692.9,1260.3 693.6,1257.6 695.1,1259.6 696.6,1258.5 697.8,1259.9 698.9,1256.9 700.0,1257.3 701.2,1253.9 702.7,1255.3 704.2,1253.0 705.1,1253.6 705.8,1252.3 706.4,1254.2 707.0,1255.3 707.6,1258.2 708.1,1256.6 708.6,1256.3 709.1,1253.4 709.6,1252.9 710.2,1249.9 710.8,1253.5 711.3,1253.7 711.9,1256.8 712.7,1255.9 713.9,1255.0 714.9,1252.6 715.8,1253.8 716.7,1249.8 716.7,1251.0" fill="none" stroke="#000000" stroke-width="3.0" stroke-linejoin="round" stroke-linecap="round" stroke-miterlimit="4"/>
<path d="M957.4,48.9 V159.0" stroke="#000" stroke-width="1.5" fill="none"/>
<path d="M957.4,40.9 L964.6999999999999,55.099999999999994 L957.4,51.3 L950.1,55.099999999999994 Z" fill="#000"/>
<path d="M957.4,167.0 L964.6999999999999,152.8 L957.4,156.6 L950.1,152.8 Z" fill="#000"/>
<path d="M957.4,278.4 V621.9" stroke="#000" stroke-width="1.5" fill="none"/>
<path d="M957.4,270.4 L964.6999999999999,284.59999999999997 L957.4,280.79999999999995 L950.1,284.59999999999997 Z" fill="#000"/>
<path d="M957.4,629.9 L964.6999999999999,615.6999999999999 L957.4,619.5 L950.1,615.6999999999999 Z" fill="#000"/>
<path d="M957.4,747.6 V1323.6" stroke="#000" stroke-width="1.5" fill="none"/>
<path d="M957.4,739.6 L964.6999999999999,753.8000000000001 L957.4,750.0 L950.1,753.8000000000001 Z" fill="#000"/>
<path d="M957.4,1331.6 L964.6999999999999,1317.3999999999999 L957.4,1321.1999999999998 L950.1,1317.3999999999999 Z" fill="#000"/>
<text x="943.0" y="19.3" font-size="25.5" text-anchor="start" font-weight="normal" >C<tspan font-size="16" dy="5.5">4</tspan></text>
<text x="943.0" y="200.3" font-size="25.5" text-anchor="start" font-weight="normal" >C<tspan font-size="16" dy="5.5">3</tspan></text>
<text x="920.3" y="249.0" font-size="25.5" text-anchor="start" font-weight="normal" >Wetter</text>
<text x="924.5" y="663.5" font-size="25.5" text-anchor="start" font-weight="normal" >Drier</text>
<text x="920.0" y="718.3" font-size="25.5" text-anchor="start" font-weight="normal" >Higher</text>
<text x="922.5" y="1365.8" font-size="25.5" text-anchor="start" font-weight="normal" >Lower</text>
<text transform="translate(20.5,101.4) rotate(-90)" font-size="25.5" text-anchor="middle">δ<tspan font-size="17.5" dy="-8">13</tspan><tspan dy="8">C</tspan><tspan font-size="17" dy="6">WtAvg</tspan></text>
<text transform="translate(50.4,101.3) rotate(-90)" font-size="25.5" text-anchor="middle">(‰ vs. VPDB)</text>
<text transform="translate(20.0,333.8) rotate(-90)" font-size="25.5" text-anchor="middle">δD<tspan font-size="17" dy="6">WtAvg</tspan></text>
<text transform="translate(50.8,333.5) rotate(-90)" font-size="25.5" text-anchor="middle">(‰ vs. VSMOW)</text>
<text transform="translate(19.9,568.3) rotate(-90)" font-size="25.5" text-anchor="middle">Precip. (mm)</text>
<text transform="translate(50.8,567.9) rotate(-90)" font-size="25.5" text-anchor="middle">Stack</text>
<text transform="translate(19.9,802.0) rotate(-90)" font-size="25.5" text-anchor="middle">Atm.</text>
<text transform="translate(50.4,801.3) rotate(-90)" font-size="25.5" text-anchor="middle">CO<tspan font-size="17" dy="6">2</tspan><tspan dy="-6"> (ppm)</tspan></text>
<text transform="translate(20.0,1036.0) rotate(-90)" font-size="25.5" text-anchor="middle">Sea Surface</text>
<text transform="translate(50.4,1037.1) rotate(-90)" font-size="25.5" text-anchor="middle">Temp. (PC1)</text>
<text transform="translate(19.9,1270.5) rotate(-90)" font-size="25.5" text-anchor="middle">Temp. (°C)</text>
<text transform="translate(50.8,1268.7) rotate(-90)" font-size="25.5" text-anchor="middle">Stack</text>
<circle cx="243.8" cy="1476.0" r="12.2" fill="#000000"/>
<text x="262.0" y="1486.0" font-size="25.5" text-anchor="start" font-weight="normal" >C<tspan font-size="17" dy="5">29-</tspan><tspan dy="-5">C</tspan><tspan font-size="17" dy="5">33</tspan><tspan dy="-5" dx="0.3"> Wt. Avg.</tspan></text>
<circle cx="517.1" cy="1475.5" r="12.2" fill="#70AD47"/>
<text x="536.0" y="1486.0" font-size="25.5" text-anchor="start" font-weight="normal" >C<tspan font-size="17" dy="5">29</tspan></text>
<circle cx="641.5" cy="1475.5" r="12.2" fill="#FFC000"/>
<text x="659.6" y="1486.0" font-size="25.5" text-anchor="start" font-weight="normal" >C<tspan font-size="17" dy="5">31</tspan></text>
<circle cx="766.5" cy="1475.5" r="12.2" fill="#ED7D31"/>
<text x="784.6" y="1486.0" font-size="25.5" text-anchor="start" font-weight="normal" >C<tspan font-size="17" dy="5">33</tspan></text>
</svg>
</body></html>
